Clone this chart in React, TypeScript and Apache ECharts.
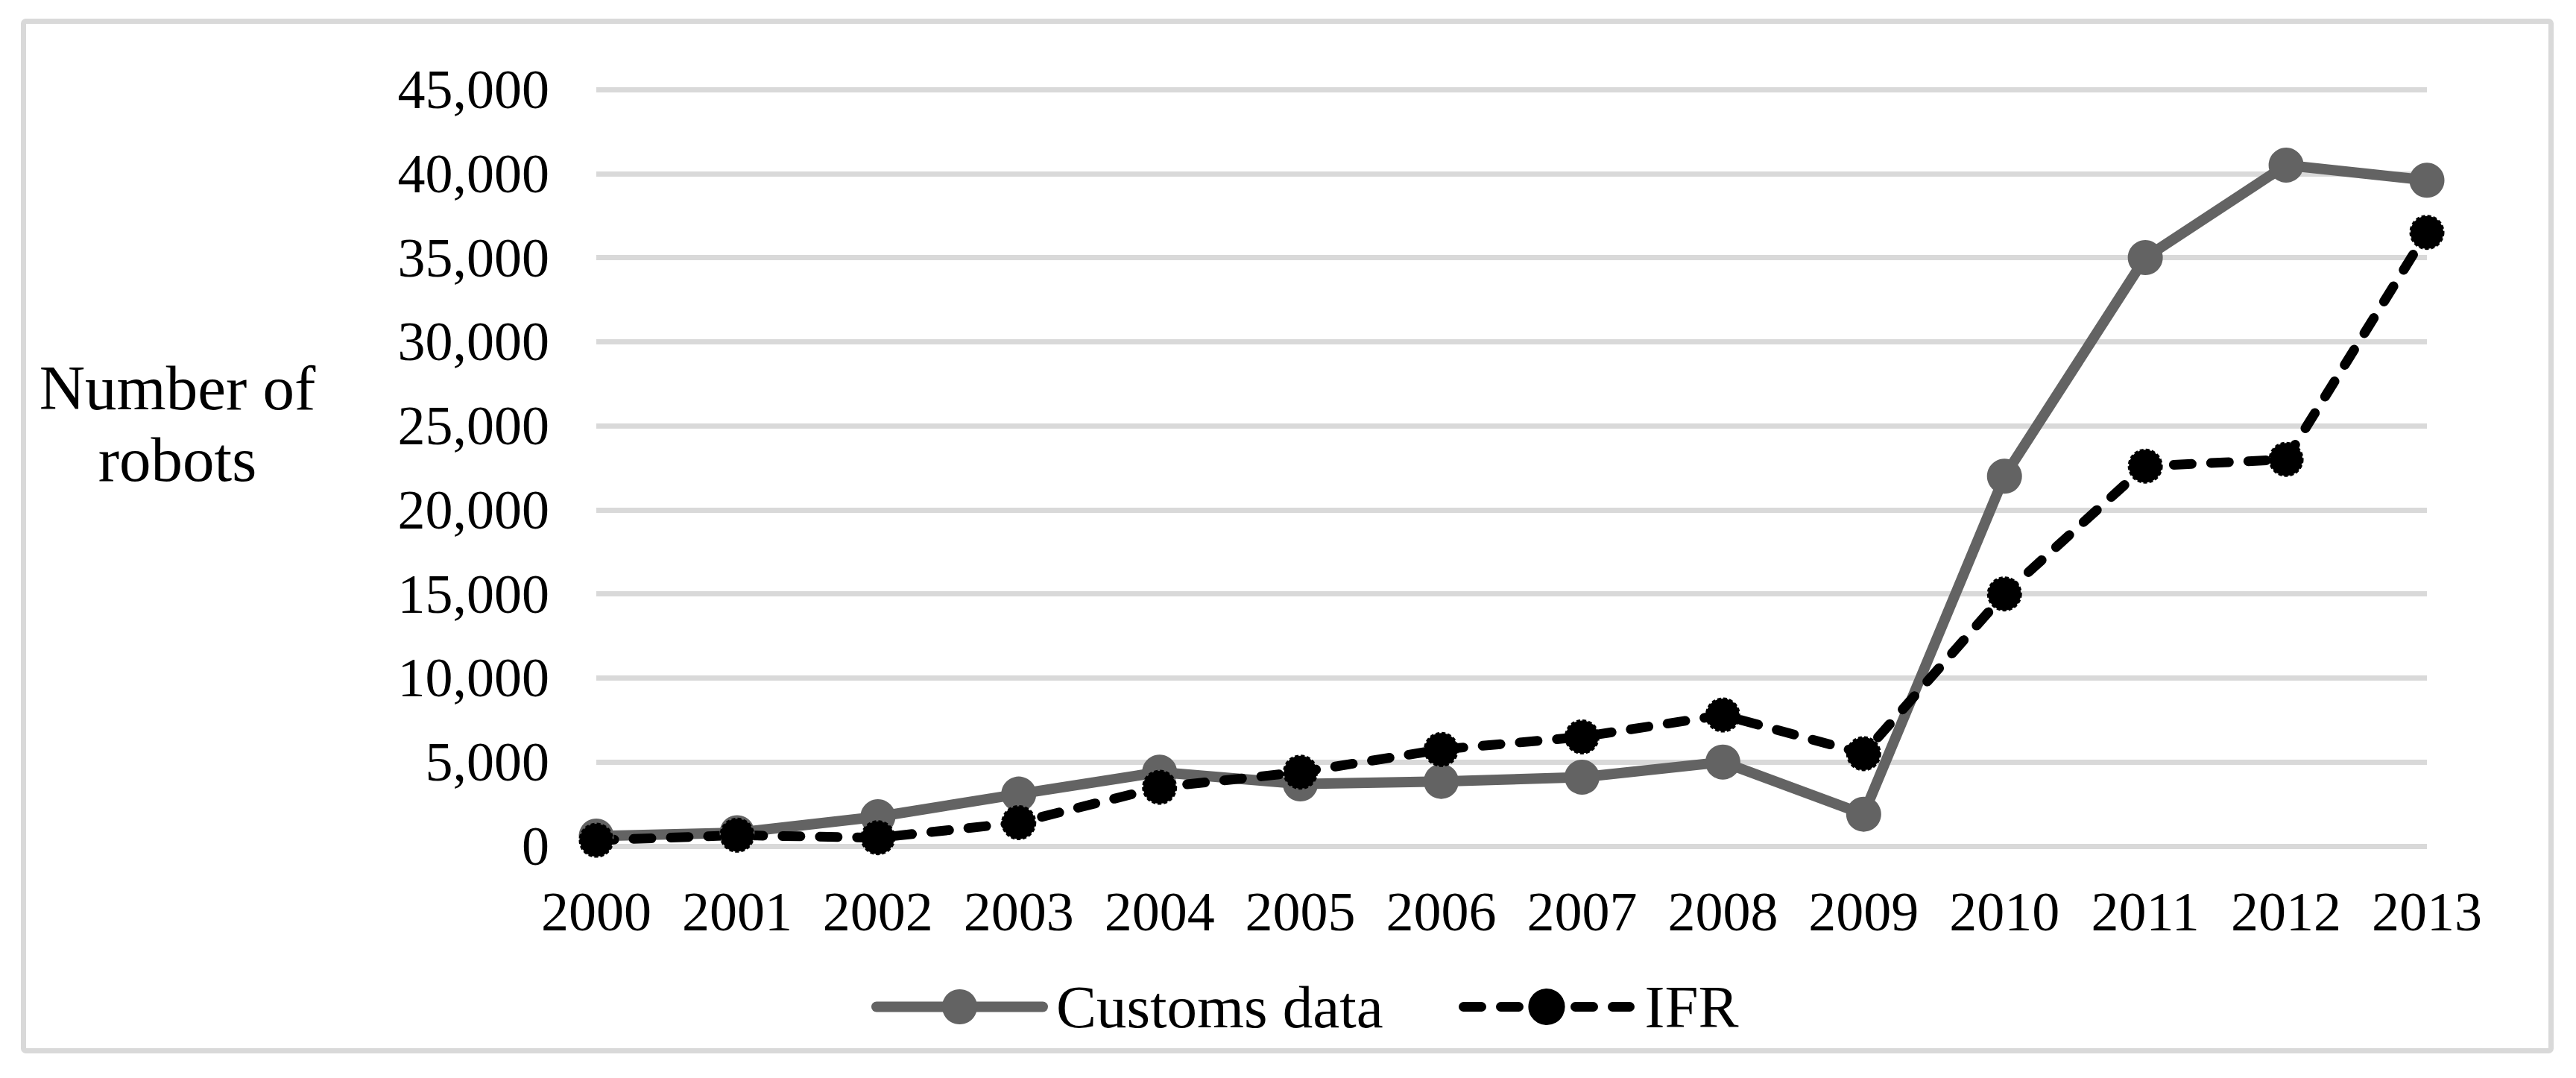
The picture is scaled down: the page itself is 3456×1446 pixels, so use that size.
import React, { useEffect, useRef } from "react";
import * as echarts from "echarts";

const years = ["2000", "2001", "2002", "2003", "2004", "2005", "2006", "2007", "2008", "2009", "2010", "2011", "2012", "2013"];
const customsData = [600, 800, 1750, 3100, 4400, 3700, 3850, 4100, 5000, 1900, 22000, 35000, 40500, 39600];
const ifrData = [350, 650, 500, 1400, 3500, 4400, 5750, 6500, 7800, 5500, 15000, 22600, 23000, 36500];
const yAxisTitle = "Number of\nrobots";
const seriesNames = ["Customs data", "IFR"];

const FONT = "'Liberation Serif', 'Times New Roman', serif";
const GRAY = "#636363";
const GRID = "#d9d9d9";

export default function App() {
  const ref = useRef<HTMLDivElement>(null);
  useEffect(() => {
    if (!ref.current) return;
    const chart = echarts.init(ref.current, null, { renderer: "svg" });
    chart.setOption({
      animation: false,
      backgroundColor: "#ffffff",
      grid: { left: 800, right: 200, top: 120, bottom: 311, containLabel: false },
      graphic: [
        {
          type: "rect",
          shape: { x: 31.5, y: 28.5, width: 3391, height: 1381, r: 3 },
          style: { fill: "none", stroke: GRID, lineWidth: 7 },
          silent: true,
        },
        {
          type: "text",
          x: 238,
          y: 568,
          style: {
            text: yAxisTitle,
            font: `85px ${FONT}`,
            fill: "#000",
            textAlign: "center",
            textVerticalAlign: "middle",
            lineHeight: 96,
          },
        },
      ],
      legend: [
        {
          data: [seriesNames[0]],
          left: 1169,
          top: 1310,
          itemWidth: 223,
          itemHeight: 59,
          padding: 0,
          lineStyle: { width: 14, color: GRAY, cap: "round" },
          textStyle: { fontFamily: FONT, fontSize: 81, color: "#000", padding: [0, 0, 0, 13] },
        },
        {
          data: [seriesNames[1]],
          left: 1957,
          top: 1310,
          itemWidth: 223,
          itemHeight: 59,
          padding: 0,
          lineStyle: { width: 13, color: "#000", type: [24, 26], cap: "round" },
          textStyle: { fontFamily: FONT, fontSize: 81, color: "#000", padding: [0, 0, 0, 15] },
        },
      ],
      xAxis: {
        type: "category",
        data: years,
        boundaryGap: false,
        axisLine: { show: false },
        axisTick: { show: false },
        axisLabel: { fontFamily: FONT, fontSize: 74, color: "#000", margin: 51, interval: 0 },
        splitLine: { show: false },
      },
      yAxis: {
        type: "value",
        min: 0,
        max: 45000,
        interval: 5000,
        axisLine: { show: false },
        axisTick: { show: false },
        axisLabel: {
          fontFamily: FONT,
          fontSize: 74,
          color: "#000",
          margin: 63,
          formatter: (v: number) => v.toLocaleString("en-US"),
        },
        splitLine: { lineStyle: { color: GRID, width: 7 } },
      },
      series: [
        {
          name: seriesNames[0],
          type: "line",
          data: customsData,
          symbol: "circle",
          symbolSize: 47,
          lineStyle: { color: GRAY, width: 14, cap: "round", join: "round" },
          itemStyle: { color: GRAY, borderWidth: 0 },
        },
        {
          name: seriesNames[1],
          type: "line",
          data: ifrData,
          symbol: "circle",
          symbolSize: 44,
          lineStyle: { color: "#000", width: 13, type: [24, 26], cap: "round", join: "round" },
          itemStyle: { color: "#000", borderColor: "#000", borderWidth: 3, borderType: [5, 3] },
        },
      ],
    });
    return () => chart.dispose();
  }, []);
  return (
    <div
      ref={ref}
      style={{ position: "fixed", left: 0, top: 0, width: 3456, height: 1446, background: "#fff" }}
    />
  );
}
